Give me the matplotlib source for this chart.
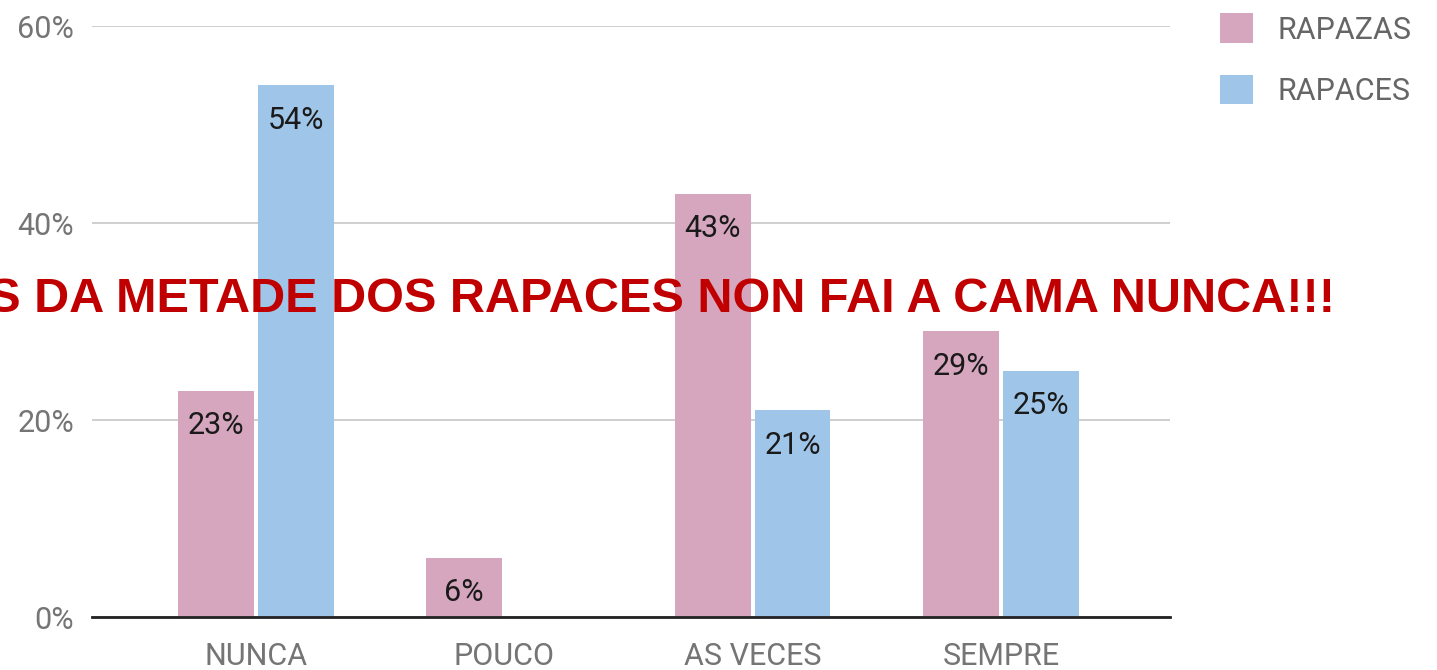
import numpy as np
import matplotlib
matplotlib.use("Agg")
import matplotlib.pyplot as plt

# datos
categorias = ["NUNCA", "POUCO", "AS VECES", "SEMPRE"]
rapazas = [23, 6, 43, 29]
rapaces = [54, 0, 21, 25]
series = ["RAPAZAS", "RAPACES"]
titulo = "MÁIS DA METADE DOS RAPACES NON FAI A CAMA NUNCA!!!"

plt.rcParams["font.family"] = ["Roboto", "DejaVu Sans"]

fig = plt.figure(figsize=(14.37, 6.7), dpi=100)
ax = fig.add_axes([0.064, 0.079, 0.750, 0.882])

x = np.arange(len(categorias))
w = 0.306
g = 0.008
b1 = ax.bar(x - w / 2 - g, rapazas, w, color="#d5a6bd", label=series[0], zorder=3)
b2 = ax.bar(x + w / 2 + g, rapaces, w, color="#9fc5e8", label=series[1], zorder=3)

# etiquetas dentro das barras
for barras, vals in [(b1, rapazas), (b2, rapaces)]:
    for b, v in zip(barras, vals):
        if v == 0:
            continue
        ax.annotate(f"{v}%", (b.get_x() + b.get_width() / 2, v), xytext=(0, -35.5),
                    textcoords="offset points", ha="center", va="bottom",
                    fontsize=22, color="#1a1a1a", zorder=4)

ax.set_xlim(-0.66, 3.68)
ax.set_ylim(0, 60)
ax.set_yticks([0, 20, 40, 60])
ax.set_yticklabels(["0%", "20%", "40%", "60%"])
ax.set_xticks(x)
ax.set_xticklabels(categorias)
ax.tick_params(axis="both", length=0, labelsize=22, labelcolor="#757575")
ax.tick_params(axis="y", pad=13)
ax.tick_params(axis="x", pad=18)
ax.grid(axis="y", color="#cccccc", linewidth=1.3, zorder=0)
for s in ["top", "right", "left"]:
    ax.spines[s].set_visible(False)
ax.spines["bottom"].set_color("#222222")
ax.spines["bottom"].set_linewidth(2)
ax.spines["bottom"].set_zorder(5)

ax.legend(loc="upper left", bbox_to_anchor=(1.021, 1.068), frameon=False,
          fontsize=22, labelcolor="#666666", handlelength=1.1, handleheight=1.1,
          labelspacing=1.0, handletextpad=0.8)

fig.text(1335 / 1437, 0.534, titulo, ha="right", va="baseline",
         fontsize=35, fontweight="bold", color="#c00000",
         family=["Liberation Sans", "DejaVu Sans"], zorder=10)

fig.savefig("out.png", dpi=100)
